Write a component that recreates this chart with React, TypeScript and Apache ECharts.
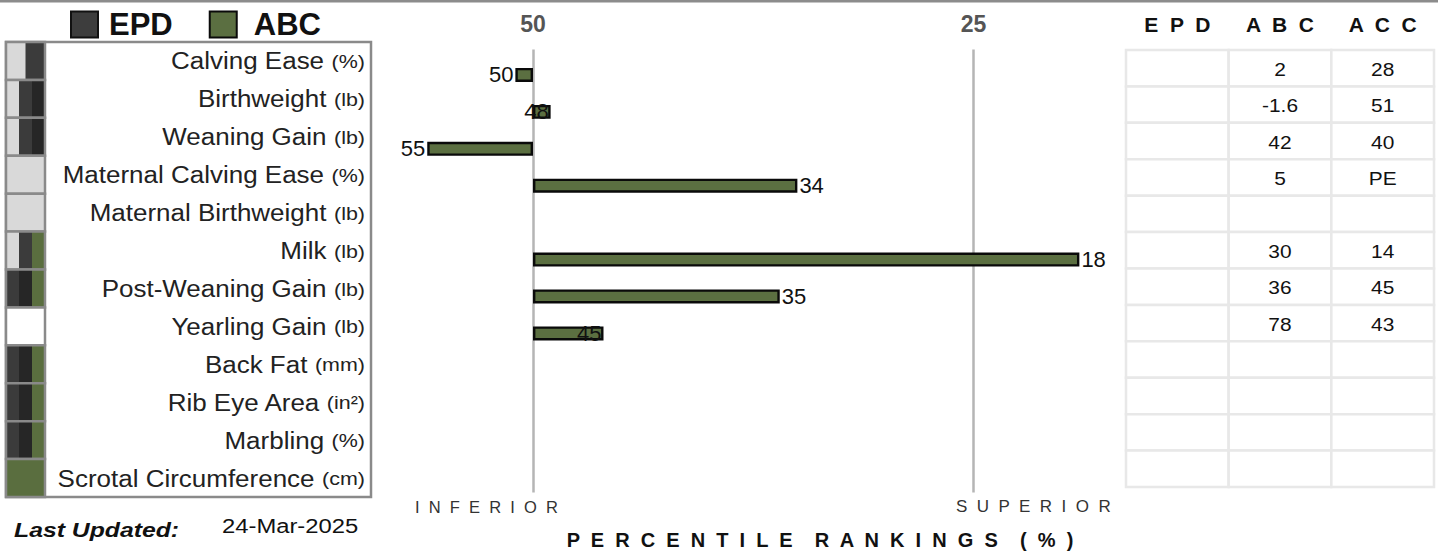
import React, { useEffect, useRef } from 'react';
import * as echarts from 'echarts';

// ---------- data ----------
const traits = [
  'Calving Ease', 'Birthweight', 'Weaning Gain', 'Maternal Calving Ease', 'Maternal Birthweight',
  'Milk', 'Post-Weaning Gain', 'Yearling Gain', 'Back Fat', 'Rib Eye Area', 'Marbling', 'Scrotal Circumference',
];
const units = ['(%)', '(lb)', '(lb)', '(%)', '(lb)', '(lb)', '(lb)', '(lb)', '(mm)', '(in²)', '(%)', '(cm)'];

const epdPercentiles: (number | null)[] = [null, null, null, null, null, null, null, null, null, null, null, null];
const abcPercentiles: (number | null)[] = [50, 48, 55, 34, null, 18, 35, 45, null, null, null, null];

const tableHeaders = ['EPD', 'ABC', 'ACC'];
const tableEPD = ['', '', '', '', '', '', '', '', '', '', '', ''];
const tableABC = ['2', '-1.6', '42', '5', '', '30', '36', '78', '', '', '', ''];
const tableACC = ['28', '51', '40', 'PE', '', '14', '45', '43', '', '', '', ''];

const axisTicks = [50, 25];
const midPercentile = 50;

// swatch bands per trait (L = light, D = dark, K = darker, G = green, W = white)
const swatches = ['LD', 'LDK', 'LDK', 'L', 'L', 'LDG', 'DKG', 'W', 'DKG', 'DKG', 'DKG', 'G'];

// ---------- styles ----------
const GREEN = '#5b6f41';
const SW: Record<string, string> = { L: '#d9d9d9', D: '#3b3b3b', K: '#262626', G: '#5a6e3f', W: '#ffffff' };
const FONT = 'Arial, "Liberation Sans", Helvetica, sans-serif';
const spaced = (s: string, gap: string) => s.split('').join(gap);

export default function App() {
  const ref = useRef<HTMLDivElement>(null);
  useEffect(() => {
    if (!ref.current) return;
    const chart = echarts.init(ref.current, null, { renderer: 'svg' });

    const toLen = (p: number | null) => (p == null ? null : midPercentile - 1 - p);
    const abcData = abcPercentiles.map((p) => {
      const v = toLen(p);
      if (v == null) return null;
      let position = 'right';
      if (v < 0) position = 'left';
      else if (v < 8) position = 'insideRight';
      return { value: v, label: { position } };
    });

    const tableCols = [tableEPD, tableABC, tableACC];
    const tableData: number[][] = [];
    for (let r = 0; r < traits.length; r++) for (let c = 0; c < 3; c++) tableData.push([c, r]);

    const option: any = {
      animation: false,
      textStyle: { fontFamily: FONT },
      legend: {
        data: [
          { name: 'EPD', textStyle: { padding: [0, 0, 0, 6] } },
          { name: 'ABC', textStyle: { padding: [0, 0, 0, 12] } },
        ],
        left: 65,
        top: 4,
        icon: 'rect',
        itemWidth: 27,
        itemHeight: 26,
        itemGap: 36,
        selectedMode: false,
        textStyle: { fontSize: 31, fontWeight: 'bold', color: '#111', fontFamily: FONT },
      },
      grid: [
        { left: 6, top: 42, width: 365, height: 455, show: true, borderColor: '#8a8a8a', borderWidth: 2.5, backgroundColor: 'transparent' },
        { left: 533 - 25 * 17.625, top: 49.5, width: 75 * 17.625, height: 443 },
        { left: 1126, top: 50, width: 308, height: 437 },
      ],
      xAxis: [
        { gridIndex: 0, type: 'value', min: 0, max: 1, show: false },
        {
          gridIndex: 1, type: 'value', position: 'top', min: -25, max: 50, interval: 25,
          axisLine: { show: false }, axisTick: { show: false },
          axisLabel: {
            margin: 14, fontSize: 23, fontWeight: 'bold', color: '#555',
            formatter: (v: number) => {
              const t = axisTicks.find((a) => midPercentile - a === v);
              return t == null ? '' : String(t);
            },
          },
          splitLine: { show: true, showMinLine: false, showMaxLine: false, lineStyle: { color: '#b5b5b5', width: 2.5 } },
        },
        {
          gridIndex: 2, type: 'category', position: 'top', data: tableHeaders,
          axisLine: { show: false }, axisTick: { show: false },
          axisLabel: { margin: 15, fontSize: 21, fontWeight: 'bold', color: '#111', formatter: (v: string) => spaced(v, '  ') },
        },
      ],
      yAxis: [
        { gridIndex: 0, type: 'category', data: traits, inverse: true, show: false },
        { gridIndex: 1, type: 'category', data: traits, inverse: true, show: false },
        { gridIndex: 2, type: 'category', data: traits, inverse: true, show: false },
      ],
      series: [
        {
          name: 'EPD', type: 'bar', xAxisIndex: 1, yAxisIndex: 1,
          data: epdPercentiles.map(toLen), barWidth: 14, barGap: '0%',
          itemStyle: { color: '#3d3d3d', borderColor: '#111', borderWidth: 2 },
        },
        {
          name: 'ABC', type: 'bar', xAxisIndex: 1, yAxisIndex: 1,
          data: abcData, barWidth: 14, barGap: '0%',
          itemStyle: { color: GREEN, borderColor: '#0a0a0a', borderWidth: 2.4 },
          label: {
            show: true, distance: 2, fontSize: 22, color: '#111',
            formatter: (p: any) => String(abcPercentiles[p.dataIndex]),
          },
        },
        {
          type: 'custom', xAxisIndex: 0, yAxisIndex: 0, silent: true,
          data: traits.map((_, i) => [0, i]),
          encode: { x: 0, y: 1 },
          renderItem: (params: any, api: any) => {
            const row = api.value(1);
            const cs = params.coordSys;
            const c = api.coord([0, row]);
            const h = api.size([0, 1])[1];
            const top = c[1] - h / 2;
            const w = 39;
            const bands = swatches[row].split('');
            const bw = w / bands.length;
            const children: any[] = bands.map((b, k) => ({
              type: 'rect',
              shape: { x: cs.x + k * bw, y: top, width: bw + 0.5, height: h },
              style: { fill: SW[b] },
            }));
            children.push({
              type: 'rect',
              shape: { x: cs.x, y: top, width: w, height: h },
              style: { fill: 'none', stroke: '#8a8a8a', lineWidth: 2.5 },
            });
            children.push({
              type: 'text',
              x: cs.x + cs.width - 6,
              y: c[1] + 0.5,
              scaleX: 1.13,
              style: {
                text: `{m|${traits[row]}}  {u|${units[row]}}`,
                align: 'right',
                verticalAlign: 'middle',
                rich: {
                  m: { fontSize: 23, fill: '#222', fontFamily: FONT },
                  u: { fontSize: 19, fill: '#222', fontFamily: FONT },
                },
              },
            });
            return { type: 'group', children };
          },
        },
        {
          type: 'custom', xAxisIndex: 2, yAxisIndex: 2, silent: true,
          data: tableData,
          encode: { x: 0, y: 1 },
          renderItem: (params: any, api: any) => {
            const col = api.value(0);
            const row = api.value(1);
            const c = api.coord([col, row]);
            const sz = api.size([1, 1]);
            return {
              type: 'group',
              children: [
                {
                  type: 'rect',
                  shape: { x: c[0] - sz[0] / 2, y: c[1] - sz[1] / 2, width: sz[0], height: sz[1] },
                  style: { fill: '#fff', stroke: '#e8e8e8', lineWidth: 2.5 },
                },
                {
                  type: 'text',
                  x: c[0],
                  y: c[1] + 1,
                  scaleX: 1.1,
                  style: {
                    text: tableCols[col][row], align: 'center', verticalAlign: 'middle',
                    fontSize: 19, fontFamily: FONT, fill: '#111',
                  },
                },
              ],
            };
          },
        },
      ],
      graphic: [
        { type: 'rect', left: 0, top: 0, shape: { width: 1438, height: 2.5 }, style: { fill: '#8c8c8c' } },
        {
          type: 'text', left: 415, top: 498,
          style: { text: spaced('INFERIOR', '  '), fontSize: 16.5, fontFamily: FONT, fill: '#333' },
        },
        {
          type: 'text', right: 1438 - 1111, top: 498,
          style: { text: spaced('SUPERIOR', '  '), fontSize: 17, fontFamily: FONT, fill: '#333' },
        },
        {
          type: 'text', x: 820, y: 540,
          style: {
            text: 'PERCENTILE RANKINGS (%)'.split(' ').map((w) => spaced(w, '  ')).join('    '),
            align: 'center', verticalAlign: 'middle',
            fontSize: 20, fontWeight: 'bold', fontFamily: FONT, fill: '#111',
          },
        },
        {
          type: 'text', x: 14, y: 530, scaleX: 1.18,
          style: {
            text: 'Last Updated:', align: 'left', verticalAlign: 'middle',
            fontSize: 21, fontWeight: 'bold', fontStyle: 'italic', fontFamily: FONT, fill: '#111',
          },
        },
        {
          type: 'text', x: 222, y: 526, scaleX: 1.19,
          style: { text: '24-Mar-2025', align: 'left', verticalAlign: 'middle', fontSize: 20, fontFamily: FONT, fill: '#111' },
        },
      ],
    };
    chart.setOption(option);
    return () => chart.dispose();
  }, []);

  return <div ref={ref} style={{ position: 'fixed', left: 0, top: 0, width: 1438, height: 557, background: '#fff' }} />;
}
